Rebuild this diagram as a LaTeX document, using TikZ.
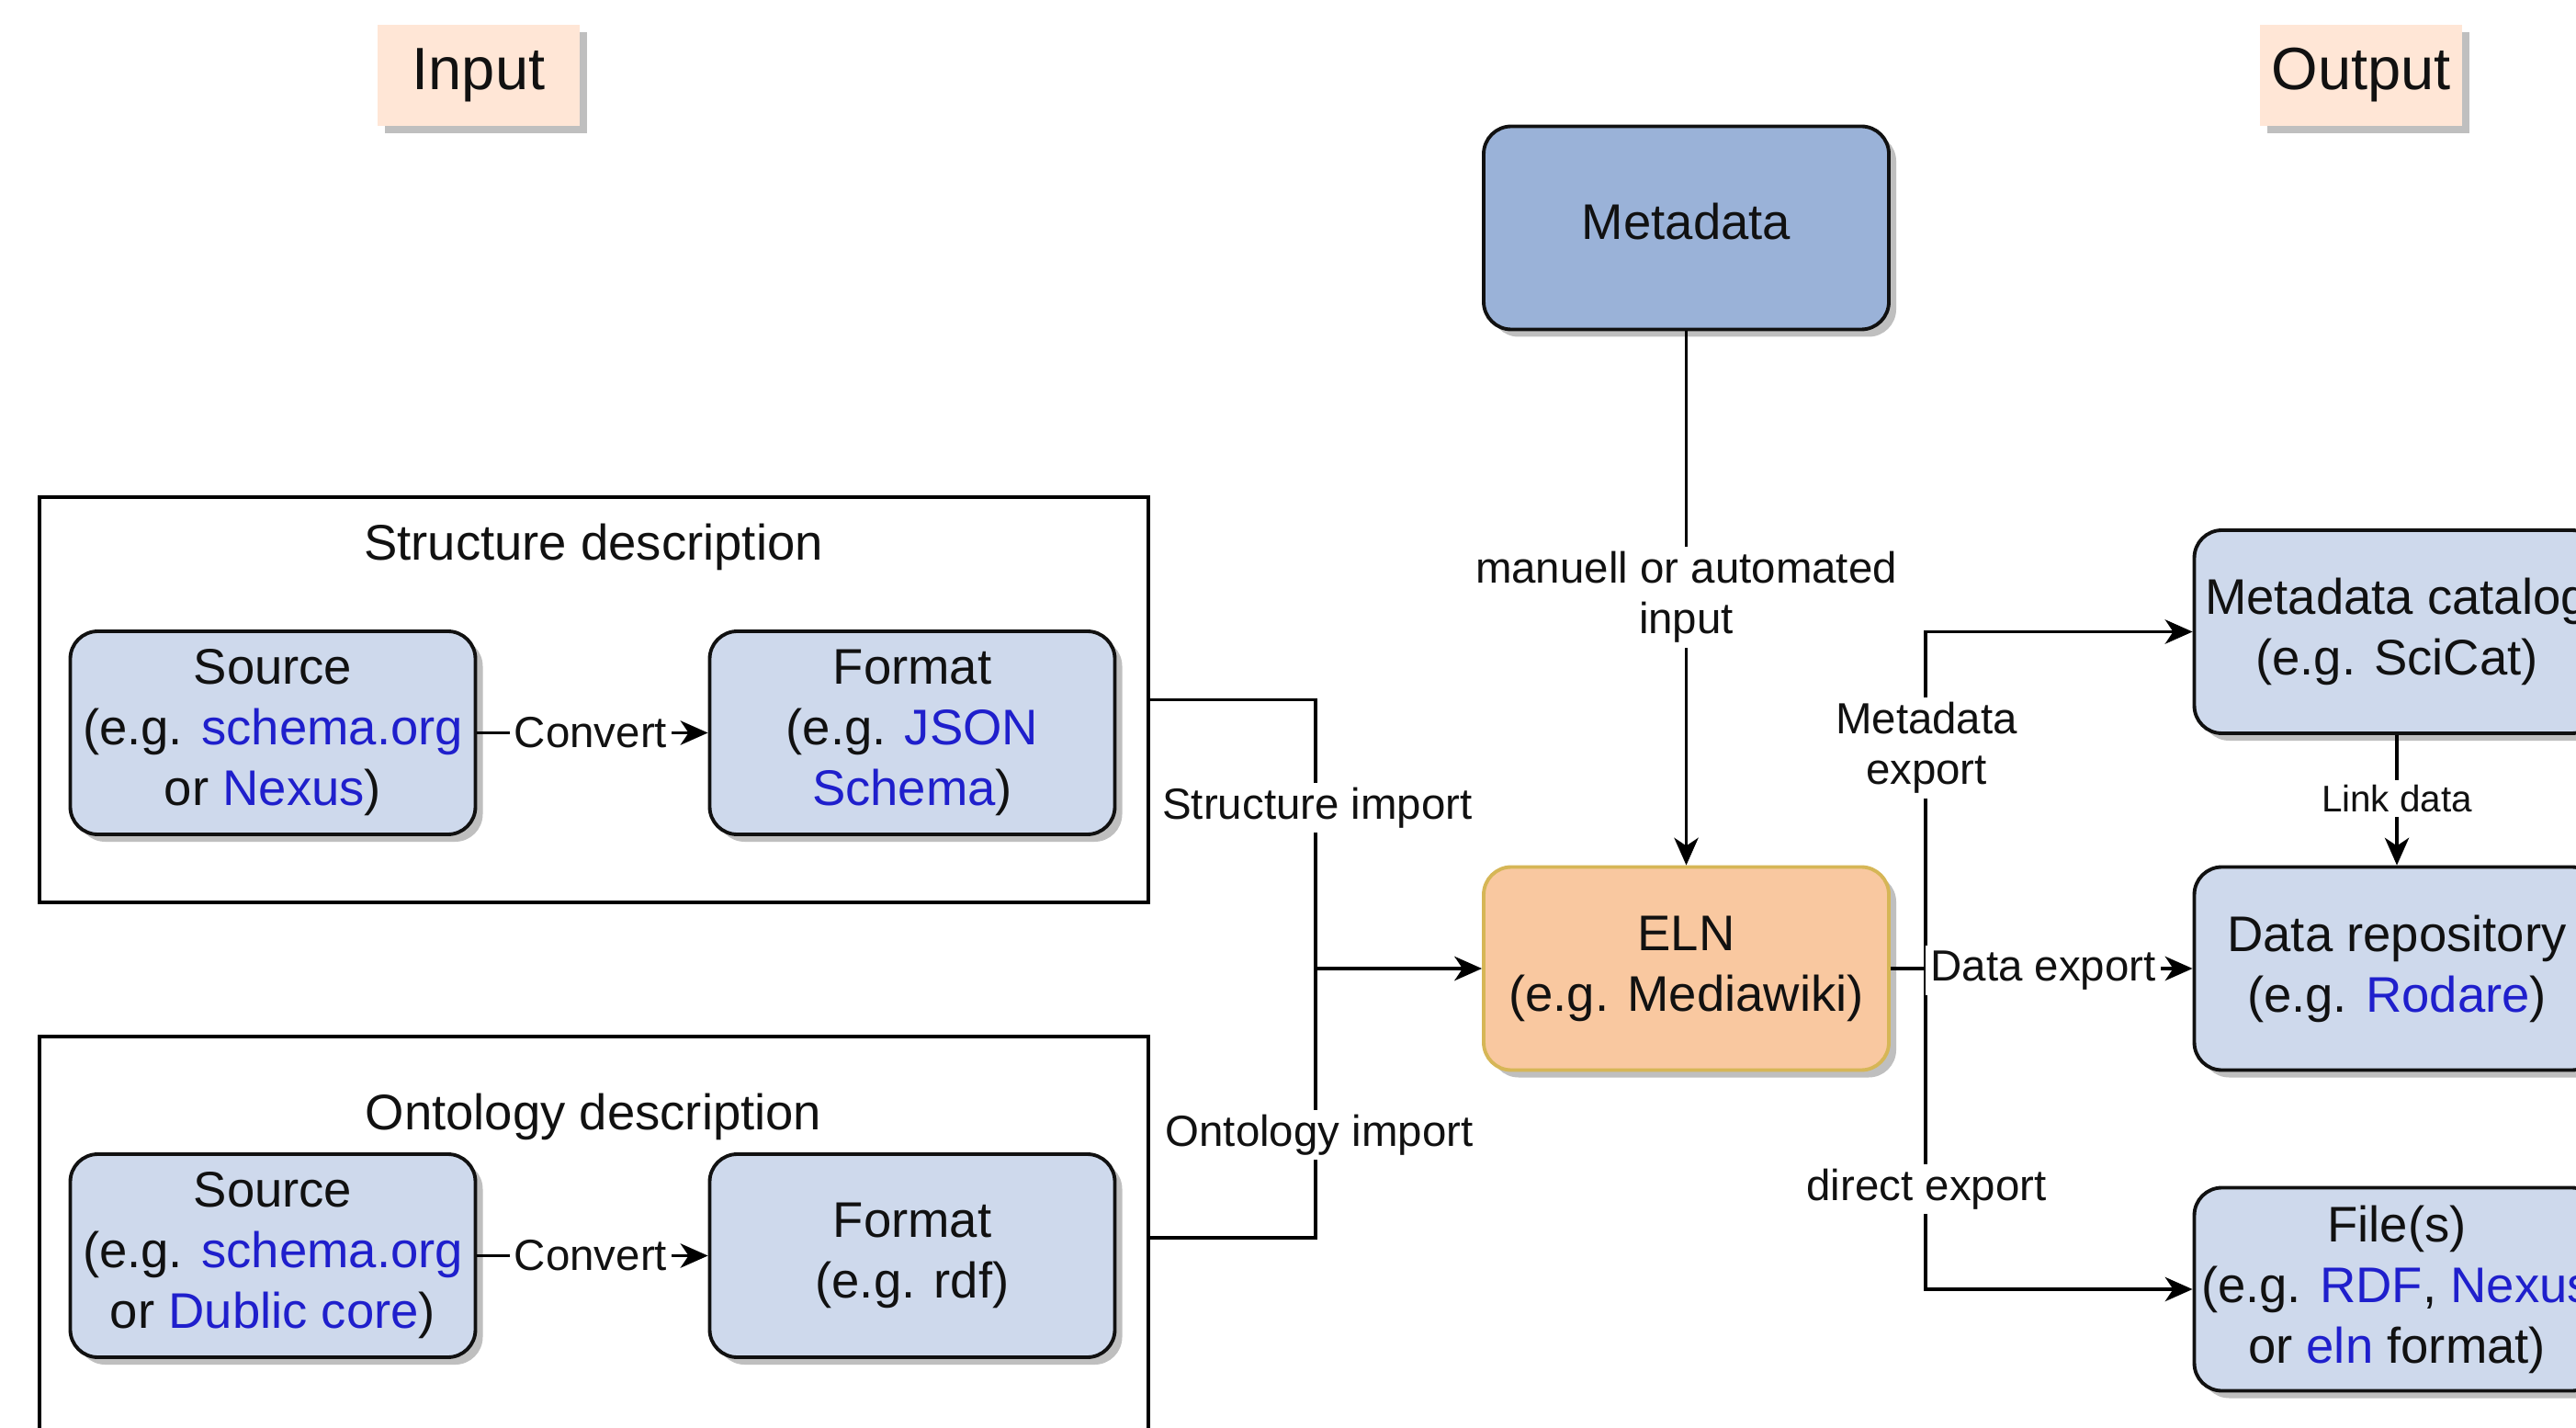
\documentclass[tikz,border=0pt]{standalone}
\usepackage{fontspec}
\setmainfont{Liberation Sans}
\usetikzlibrary{shadows,arrows.meta}
\definecolor{lightblue}{HTML}{CED9EC}
\definecolor{metablue}{HTML}{9AB2D8}
\definecolor{elnfill}{HTML}{F9C8A0}
\definecolor{elnline}{HTML}{D6B656}
\definecolor{tagfill}{HTML}{FFE6D6}
\definecolor{linkblue}{HTML}{1F1FCC}
\definecolor{boxline}{HTML}{111111}
\definecolor{txt}{HTML}{111111}
\newcommand{\mainfs}{\fontsize{15.5pt}{18.8pt}\selectfont}
\newcommand{\edgefs}{\fontsize{13.5pt}{15.7pt}\selectfont}
\newcommand{\smallfs}{\fontsize{11.5pt}{13pt}\selectfont}
\newcommand{\titlefs}{\fontsize{18.5pt}{22pt}\selectfont}
\newcommand{\lk}[1]{\textcolor{linkblue}{#1}}
\tikzset{
  shad/.style={drop shadow={shadow xshift=0.08cm, shadow yshift=-0.08cm, fill=black!25, opacity=1}},
  box/.style={draw=boxline, line width=1.1pt, rounded corners=0.3cm, fill=lightblue,
    minimum width=4.41cm, minimum height=2.21cm, align=center, font=\mainfs,
    text=txt, inner sep=0pt, shad},
  metabox/.style={box, fill=metablue, text depth=0.14cm},
  elnbox/.style={box, fill=elnfill, draw=elnline},
  tag/.style={fill=tagfill, minimum width=2.2cm, minimum height=1.1cm, font=\titlefs,
    text=txt, inner sep=0pt, shad},
  container/.style={draw=black, line width=1.1pt, fill=none},
  conn/.style={draw=black, line width=0.9pt},
  arr/.style={conn, -{Stealth[length=8.5pt,width=7.5pt,inset=2.5pt]}},
  elabel/.style={fill=white, font=\edgefs, align=center, inner sep=1.5pt, text=txt},
  slabel/.style={fill=white, font=\smallfs, align=center, inner sep=1.5pt, text=txt},
  ctitle/.style={font=\mainfs, text=txt, inner sep=0pt}
}
\begin{document}
\begin{tikzpicture}
\clip (0,0) rectangle (28.04,-15.54);
\fill[white] (0,0) rectangle (28.04,-15.54);

% tags
\node[tag] (inputtag) at (5.21,-0.82) {Input};
\node[tag] (outputtag) at (25.70,-0.82) {Output};

% containers
\node[container, minimum width=12.07cm, minimum height=4.41cm, inner sep=0pt] (cstruct) at (6.465,-7.615) {};
\node[container, minimum width=12.07cm, minimum height=4.38cm, inner sep=0pt] (contol) at (6.465,-13.47) {};
\node[ctitle] (tstruct) at (6.46,-5.95) {Structure description};
\node[ctitle] (tontol) at (6.46,-12.15) {Ontology description};

% input boxes
\node[box] (src1) at (2.97,-7.975) {Source\\(e.g. \lk{schema.org}\\or \lk{Nexus})};
\node[box] (fmt1) at (9.93,-7.975) {Format\\(e.g. \lk{JSON}\\\lk{Schema})};
\node[box] (src2) at (2.97,-13.665) {Source\\(e.g. \lk{schema.org}\\or \lk{Dublic core})};
\node[box] (fmt2) at (9.93,-13.665) {Format\\(e.g. rdf)};

% center
\node[metabox] (meta) at (18.355,-2.48) {Metadata};
\node[elnbox] (eln) at (18.355,-10.54) {ELN\\(e.g. Mediawiki)};

% output boxes
\node[box] (cat) at (26.09,-6.875) {Metadata catalog\\(e.g. SciCat)};
\node[box] (repo) at (26.09,-10.54) {Data repository\\(e.g. \lk{Rodare})};
\node[box] (files) at (26.09,-14.03) {File(s)\\(e.g. \lk{RDF}, \lk{Nexus}\\or \lk{eln} format)};

% junctions
\coordinate (jin) at (14.32,-10.54);
\coordinate (jout) at (20.96,-10.54);

% connectors
\draw[arr] (src1.east) -- (fmt1.west);
\draw[arr] (src2.east) -- (fmt2.west);
\draw[conn] (cstruct.east) -| (jin);
\draw[conn] (contol.east) -| (jin);
\draw[arr] (jin) -- (eln.west);
\draw[arr] (meta.south) -- (eln.north);
\draw[arr] (eln.east) -- (repo.west);
\draw[arr] (jout) |- (cat.west);
\draw[arr] (jout) |- (files.west);
\draw[arr] (cat.south) -- (repo.north);

% labels
\node[elabel] (lconv1) at (6.43,-7.975) {Convert};
\node[elabel] (lconv2) at (6.43,-13.665) {Convert};
\node[elabel] (lstruct) at (14.34,-8.79) {Structure import};
\node[elabel] (lontol) at (14.36,-12.35) {Ontology import};
\node[elabel] (lmanual) at (18.355,-6.50) {manuell or automated\\input};
\node[elabel] (lmeta) at (20.97,-8.14) {Metadata\\export};
\node[elabel] (ldata) at (22.24,-10.56) {Data export};
\node[elabel] (ldirect) at (20.97,-12.94) {direct export};
\node[slabel] (llink) at (26.09,-8.69) {Link data};
\end{tikzpicture}
\end{document}
